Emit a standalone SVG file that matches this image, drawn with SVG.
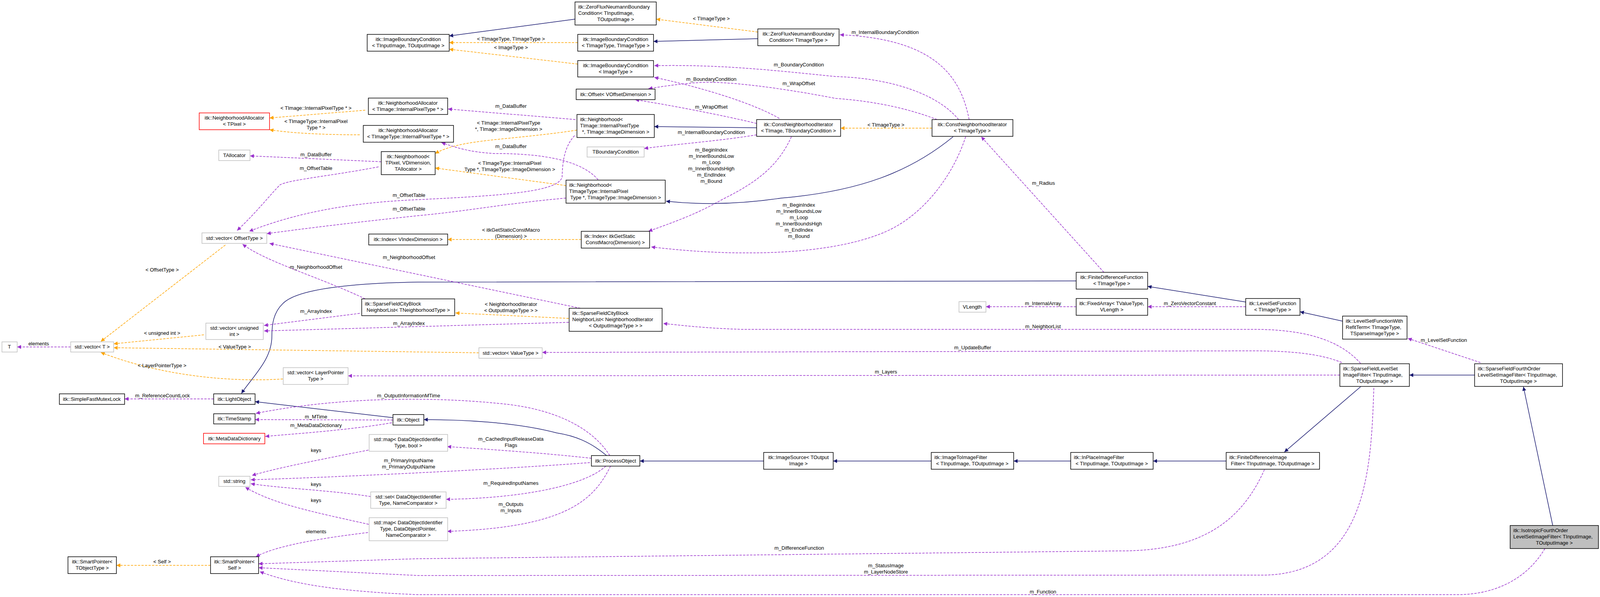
<svg xmlns="http://www.w3.org/2000/svg" width="4277" height="1528" viewBox="0 0 4277 1528">
<style>
text{font-family:"Liberation Sans",Arial,sans-serif;font-size:13px;fill:#000}
.node rect{fill:#fff;stroke:#000;stroke-width:1.5}
.gray rect{stroke:#bfbfbf}
.red rect{stroke:#ff0000}
.sel rect{fill:#bfbfbf}
.c{text-anchor:middle}
.e path{fill:none;stroke-width:1.5}
.n{stroke:#191970;marker-end:url(#an)}
.o{stroke:#ffa500;stroke-dasharray:6,3;marker-end:url(#ao)}
.p{stroke:#9a32cd;stroke-dasharray:6,3;marker-end:url(#ap)}
</style>
<defs>
<marker id="an" viewBox="0 0 10 10" refX="10" refY="5" markerWidth="13" markerHeight="10" markerUnits="userSpaceOnUse" orient="auto"><path d="M0,0L10,5L0,10z" fill="#191970"/></marker>
<marker id="ao" viewBox="0 0 10 10" refX="10" refY="5" markerWidth="13" markerHeight="10" markerUnits="userSpaceOnUse" orient="auto"><path d="M0,0L10,5L0,10z" fill="#ffa500"/></marker>
<marker id="ap" viewBox="0 0 10 10" refX="10" refY="5" markerWidth="13" markerHeight="10" markerUnits="userSpaceOnUse" orient="auto"><path d="M0,0L10,5L0,10z" fill="#9a32cd"/></marker>
</defs>
<rect width="4277" height="1528" fill="#fff"/>
<g id="edges" class="e">
<path class="n" d="M1472,49 L1150,92"/>
<path class="o" d="M1479,109 L1150,109"/>
<path class="o" d="M1479,164 L1150,126"/>
<path class="n" d="M1940,99 L1673,106"/>
<path class="o" d="M1940,82 L1680,49"/>
<path class="p" d="M1937,345 C1850,360 1720,370 1649,380"/>
<path class="n" d="M1937,327 L1675,324"/>
<path class="p" d="M1937,316 C1850,295 1720,270 1626,255"/>
<path class="p" d="M1995,303 C1920,260 1780,220 1675,198"/>
<path class="p" d="M2026,350 C1990,430 1930,470 1850,510 C1780,550 1720,570 1660,592"/>
<path class="o" d="M2386,328 L2152,328"/>
<path class="p" d="M2481,306 C2460,200 2400,100 2150,89"/>
<path class="p" d="M2454,306 C2400,240 2280,200 2140,196 C1980,180 1850,165 1675,168"/>
<path class="p" d="M2399,306 C2330,280 2250,260 2140,252 C2000,225 1850,205 1780,212 C1730,216 1690,222 1660,227"/>
<path class="n" d="M2440,350 C2330,440 2200,490 2000,507 C1900,522 1800,525 1705,515"/>
<path class="p" d="M2472,350 C2440,450 2360,560 2250,600 C2120,650 1900,660 1667,632"/>
<path class="p" d="M2826,697 L2512,350"/>
<path class="n" d="M2755,719 L1070,722 C900,725 760,740 724,777 C700,800 696,830 696,860 C696,920 650,960 618,1007"/>
<path class="n" d="M3189,773 L2938,733"/>
<path class="p" d="M3189,785 L2938,785"/>
<path class="p" d="M2755,785 L2524,785"/>
<path class="n" d="M3437,822 L3328,798"/>
<path class="p" d="M3790,928 L3604,866"/>
<path class="n" d="M3775,960 L3608,960"/>
<path class="n" d="M3975,1345 L3900,990"/>
<path class="n" d="M3483,990 L3288,1157"/>
<path class="n" d="M3139,1180 L2952,1180"/>
<path class="n" d="M2741,1180 L2595,1180"/>
<path class="n" d="M2384,1180 L2133,1180"/>
<path class="n" d="M1955,1180 L1638,1180"/>
<path class="n" d="M1553,1166 C1510,1130 1470,1115 1425,1108 C1320,1080 1180,1074 1085,1074"/>
<path class="n" d="M1006,1069 L653,1028"/>
<path class="p" d="M547,1021 L319,1021"/>
<path class="p" d="M1006,1075 L653,1074"/>
<path class="p" d="M1003,1082 C900,1100 760,1110 679,1117"/>
<path class="p" d="M1561,1166 C1520,1100 1430,1050 1300,1035 C1150,1018 900,1010 655,1058"/>
<path class="p" d="M1514,1173 C1400,1160 1250,1150 1145,1143"/>
<path class="p" d="M1510,1184 C1300,1200 900,1220 642,1228"/>
<path class="p" d="M1551,1193 C1500,1240 1350,1275 1142,1278"/>
<path class="p" d="M1563,1193 C1520,1280 1450,1350 1145,1360"/>
<path class="p" d="M943,1152 C800,1180 700,1200 645,1217"/>
<path class="p" d="M949,1271 C850,1255 720,1250 642,1238"/>
<path class="p" d="M944,1342 C800,1310 700,1290 628,1247"/>
<path class="p" d="M942,1363 C800,1380 700,1400 655,1425"/>
<path class="o" d="M539,1447 L298,1447"/>
<path class="p" d="M3237,1202 C3180,1330 3080,1410 2870,1410 L1070,1430 L662,1443"/>
<path class="p" d="M3517,993 C3510,1200 3500,1472 3230,1472 L1070,1473 L662,1453"/>
<path class="p" d="M3955,1404 C3910,1480 3830,1522 3730,1522 L1070,1522 C900,1515 760,1500 665,1463"/>
<path class="p" d="M3483,930 C3430,870 3340,843 3210,843 L1900,843 C1800,840 1740,832 1698,828"/>
<path class="p" d="M3435,928 C3380,905 3300,898 3210,898 L1388,902"/>
<path class="p" d="M3430,960 L891,962"/>
<path class="o" d="M1226,903 L291,890"/>
<path class="o" d="M522,857 L291,880"/>
<path class="o" d="M724,970 C600,978 420,965 258,902"/>
<path class="o" d="M577,627 L258,874"/>
<path class="p" d="M181,888 L44,888"/>
<path class="p" d="M921,802 L676,833"/>
<path class="p" d="M1456,825 L676,847"/>
<path class="o" d="M1456,815 L1166,801"/>
<path class="p" d="M1486,789 L690,623"/>
<path class="p" d="M935,765 C820,710 680,670 621,625"/>
<path class="o" d="M1488,613 L1146,613"/>
<path class="p" d="M976,414 L640,399"/>
<path class="p" d="M969,427 C850,450 740,460 717,473 C690,500 660,540 607,590"/>
<path class="p" d="M1473,306 L1147,279"/>
<path class="o" d="M1477,333 C1300,360 1180,355 1114,393"/>
<path class="o" d="M1449,475 L1114,430"/>
<path class="p" d="M1531,460 C1480,400 1350,393 1268,393 C1200,390 1160,375 1130,365"/>
<path class="p" d="M1471,347 C1440,380 1440,430 1439,453 C1430,490 1300,500 1070,511 C850,520 720,560 638,592"/>
<path class="p" d="M1449,507 C1300,520 1200,540 1070,552 C900,570 780,585 683,598"/>
<path class="o" d="M935,282 L690,302"/>
<path class="o" d="M921,345 C820,345 740,340 690,332"/>
</g>
<g id="edge-labels" class="c">
<text x="1821" y="52">&lt; TImageType &gt;</text>
<text x="1308" y="104">&lt; TImageType, TImageType &gt;</text>
<text x="1308" y="126">&lt; ImageType &gt;</text>
<text x="2180" y="87" style="text-anchor:start">m_InternalBoundaryCondition</text>
<text x="2045" y="170">m_BoundaryCondition</text>
<text x="1821" y="207">m_BoundaryCondition</text>
<text x="2045" y="218">m_WrapOffset</text>
<text x="1308" y="276">m_DataBuffer</text>
<text x="1821" y="278">m_WrapOffset</text>
<text x="809" y="281">&lt; TImage::InternalPixelType * &gt;</text>
<text x="1302" y="319">&lt; TImage::InternalPixelType</text>
<text x="1302" y="335">*, TImage::ImageDimension &gt;</text>
<text x="809" y="315">&lt; TImageType::InternalPixel</text>
<text x="809" y="331">Type * &gt;</text>
<text x="2268" y="324">&lt; TImageType &gt;</text>
<text x="1821" y="343">m_InternalBoundaryCondition</text>
<text x="1308" y="379">m_DataBuffer</text>
<text x="1821" y="388">m_BeginIndex</text>
<text x="1821" y="404">m_InnerBoundsLow</text>
<text x="1821" y="420">m_Loop</text>
<text x="1821" y="436">m_InnerBoundsHigh</text>
<text x="1821" y="452">m_EndIndex</text>
<text x="1821" y="468">m_Bound</text>
<text x="809" y="400">m_DataBuffer</text>
<text x="1305" y="422">&lt; TImageType::InternalPixel</text>
<text x="1305" y="438">Type *, TImageType::ImageDimension &gt;</text>
<text x="809" y="435">m_OffsetTable</text>
<text x="2642" y="473" style="text-anchor:start">m_Radius</text>
<text x="1047" y="504">m_OffsetTable</text>
<text x="2045" y="529">m_BeginIndex</text>
<text x="2045" y="545">m_InnerBoundsLow</text>
<text x="2045" y="561">m_Loop</text>
<text x="2045" y="577">m_InnerBoundsHigh</text>
<text x="2045" y="593">m_EndIndex</text>
<text x="2045" y="609">m_Bound</text>
<text x="1047" y="539">m_OffsetTable</text>
<text x="1308" y="593">&lt; itkGetStaticConstMacro</text>
<text x="1308" y="609">(Dimension) &gt;</text>
<text x="1047" y="663">m_NeighborhoodOffset</text>
<text x="809" y="688">m_NeighborhoodOffset</text>
<text x="415" y="695">&lt; OffsetType &gt;</text>
<text x="2670" y="781">m_InternalArray</text>
<text x="3046" y="781">m_ZeroVectorConstant</text>
<text x="1308" y="783">&lt; NeighborhoodIterator</text>
<text x="1308" y="799">&lt; OutputImageType &gt; &gt;</text>
<text x="809" y="801">m_ArrayIndex</text>
<text x="1047" y="832">m_ArrayIndex</text>
<text x="2670" y="840">m_NeighborList</text>
<text x="415" y="857">&lt; unsigned int &gt;</text>
<text x="3637" y="875" style="text-anchor:start">m_LevelSetFunction</text>
<text x="99" y="884">elements</text>
<text x="601" y="892">&lt; ValueType &gt;</text>
<text x="2490" y="894">m_UpdateBuffer</text>
<text x="415" y="940">&lt; LayerPointerType &gt;</text>
<text x="2268" y="956">m_Layers</text>
<text x="416" y="1017">m_ReferenceCountLock</text>
<text x="1046" y="1017">m_OutputInformationMTime</text>
<text x="809" y="1071">m_MTime</text>
<text x="809" y="1093">m_MetaDataDictionary</text>
<text x="1308" y="1128">m_CachedInputReleaseData</text>
<text x="1308" y="1144">Flags</text>
<text x="809" y="1157">keys</text>
<text x="1046" y="1183">m_PrimaryInputName</text>
<text x="1046" y="1199">m_PrimaryOutputName</text>
<text x="1308" y="1241">m_RequiredInputNames</text>
<text x="809" y="1244">keys</text>
<text x="809" y="1285">keys</text>
<text x="1308" y="1295">m_Outputs</text>
<text x="1308" y="1311">m_Inputs</text>
<text x="809" y="1365">elements</text>
<text x="2046" y="1407">m_DifferenceFunction</text>
<text x="415" y="1442">&lt; Self &gt;</text>
<text x="2268" y="1452">m_StatusImage</text>
<text x="2268" y="1468">m_LayerNodeStore</text>
<text x="2670" y="1519">m_Function</text>
</g>
<g id="zfnbc2" class="node"><rect x="1472" y="5" width="208" height="59"/><text x="1480" y="22">itk::ZeroFluxNeumannBoundary</text><text x="1480" y="38">Condition&lt; TInputImage,</text><text class="c" x="1576" y="54">TOutputImage &gt;</text></g>
<g id="ibc2" class="node"><rect x="940" y="88" width="210" height="43"/><text class="c" x="1045" y="105">itk::ImageBoundaryCondition</text><text class="c" x="1045" y="121">&lt; TInputImage, TOutputImage &gt;</text></g>
<g id="ibctt" class="node"><rect x="1479" y="88" width="194" height="43"/><text class="c" x="1576" y="105">itk::ImageBoundaryCondition</text><text class="c" x="1576" y="121">&lt; TImageType, TImageType &gt;</text></g>
<g id="ibci" class="node"><rect x="1479" y="155" width="194" height="42"/><text class="c" x="1576" y="172">itk::ImageBoundaryCondition</text><text class="c" x="1576" y="188">&lt; ImageType &gt;</text></g>
<g id="zfnbc1" class="node"><rect x="1940" y="74" width="208" height="43"/><text class="c" x="2044" y="91">itk::ZeroFluxNeumannBoundary</text><text class="c" x="2044" y="107">Condition&lt; TImageType &gt;</text></g>
<g id="offset" class="node"><rect x="1475" y="228" width="202" height="27"/><text class="c" x="1576" y="246">itk::Offset&lt; VOffsetDimension &gt;</text></g>
<g id="nat" class="node"><rect x="943" y="251" width="203" height="42"/><text class="c" x="1044" y="268">itk::NeighborhoodAllocator</text><text class="c" x="1044" y="284">&lt; TImage::InternalPixelType * &gt;</text></g>
<g id="nap" class="node red"><rect x="510" y="289" width="180" height="43"/><text class="c" x="600" y="306">itk::NeighborhoodAllocator</text><text class="c" x="600" y="322">&lt; TPixel &gt;</text></g>
<g id="nbi" class="node"><rect x="1477" y="293" width="198" height="59"/><text x="1485" y="310">itk::Neighborhood&lt;</text><text x="1485" y="326">TImage::InternalPixelType</text><text class="c" x="1576" y="342">*, TImage::ImageDimension &gt;</text></g>
<g id="cni2" class="node"><rect x="1937" y="306" width="215" height="43"/><text class="c" x="2044" y="323">itk::ConstNeighborhoodIterator</text><text class="c" x="2044" y="339">&lt; TImage, TBoundaryCondition &gt;</text></g>
<g id="cni1" class="node"><rect x="2386" y="306" width="207" height="43"/><text class="c" x="2489" y="323">itk::ConstNeighborhoodIterator</text><text class="c" x="2489" y="339">&lt; TImageType &gt;</text></g>
<g id="natt" class="node"><rect x="930" y="321" width="231" height="43"/><text class="c" x="1045" y="338">itk::NeighborhoodAllocator</text><text class="c" x="1045" y="354">&lt; TImageType::InternalPixelType * &gt;</text></g>
<g id="tbc" class="node gray"><rect x="1503" y="376" width="146" height="26"/><text class="c" x="1576" y="393">TBoundaryCondition</text></g>
<g id="talloc" class="node gray"><rect x="560" y="384" width="80" height="27"/><text class="c" x="600" y="402">TAllocator</text></g>
<g id="nbp" class="node"><rect x="976" y="388" width="138" height="59"/><text class="c" x="1045" y="405">itk::Neighborhood&lt;</text><text class="c" x="1045" y="421">TPixel, VDimension,</text><text class="c" x="1045" y="437">TAllocator &gt;</text></g>
<g id="nbtt" class="node"><rect x="1449" y="461" width="254" height="59"/><text x="1457" y="478">itk::Neighborhood&lt;</text><text x="1457" y="494">TImageType::InternalPixel</text><text class="c" x="1576" y="510">Type *, TImageType::ImageDimension &gt;</text></g>
<g id="voff" class="node gray"><rect x="517" y="596" width="166" height="27"/><text class="c" x="600" y="614">std::vector&lt; OffsetType &gt;</text></g>
<g id="idxv" class="node"><rect x="944" y="599" width="202" height="28"/><text class="c" x="1045" y="617">itk::Index&lt; VIndexDimension &gt;</text></g>
<g id="idxs" class="node"><rect x="1488" y="592" width="175" height="43"/><text x="1496" y="609">itk::Index&lt; itkGetStatic</text><text class="c" x="1575" y="625">ConstMacro(Dimension) &gt;</text></g>
<g id="fdf" class="node"><rect x="2755" y="697" width="183" height="43"/><text class="c" x="2846" y="714">itk::FiniteDifferenceFunction</text><text class="c" x="2846" y="730">&lt; TImageType &gt;</text></g>
<g id="sfcb1" class="node"><rect x="926" y="765" width="238" height="43"/><text x="934" y="782">itk::SparseFieldCityBlock</text><text class="c" x="1045" y="798">NeighborList&lt; TNeighborhoodType &gt;</text></g>
<g id="vlength" class="node gray"><rect x="2455" y="772" width="69" height="27"/><text class="c" x="2489" y="790">VLength</text></g>
<g id="fixedarray" class="node"><rect x="2755" y="764" width="183" height="43"/><text class="c" x="2846" y="781">itk::FixedArray&lt; TValueType,</text><text class="c" x="2846" y="797">VLength &gt;</text></g>
<g id="lsf" class="node"><rect x="3189" y="764" width="139" height="43"/><text class="c" x="3258" y="781">itk::LevelSetFunction</text><text class="c" x="3258" y="797">&lt; TImageType &gt;</text></g>
<g id="sfcb2" class="node"><rect x="1457" y="789" width="238" height="59"/><text x="1465" y="806">itk::SparseFieldCityBlock</text><text x="1465" y="822">NeighborList&lt; NeighborhoodIterator</text><text class="c" x="1576" y="838">&lt; OutputImageType &gt; &gt;</text></g>
<g id="lsfr" class="node"><rect x="3437" y="809" width="165" height="59"/><text x="3445" y="826">itk::LevelSetFunctionWith</text><text x="3445" y="842">RefitTerm&lt; TImageType,</text><text class="c" x="3519" y="858">TSparseImageType &gt;</text></g>
<g id="vui" class="node gray"><rect x="527" y="827" width="147" height="42"/><text class="c" x="600" y="844">std::vector&lt; unsigned</text><text class="c" x="600" y="860">int &gt;</text></g>
<g id="t" class="node gray"><rect x="5" y="875" width="39" height="26"/><text class="c" x="24" y="892">T</text></g>
<g id="vt" class="node gray"><rect x="181" y="875" width="110" height="26"/><text class="c" x="236" y="892">std::vector&lt; T &gt;</text></g>
<g id="vvt" class="node gray"><rect x="1226" y="890" width="162" height="27"/><text class="c" x="1307" y="908">std::vector&lt; ValueType &gt;</text></g>
<g id="sfls" class="node"><rect x="3430" y="931" width="178" height="58"/><text x="3438" y="948">itk::SparseFieldLevelSet</text><text x="3438" y="964">ImageFilter&lt; TInputImage,</text><text class="c" x="3519" y="980">TOutputImage &gt;</text></g>
<g id="sffo" class="node"><rect x="3775" y="931" width="225" height="58"/><text x="3783" y="948">itk::SparseFieldFourthOrder</text><text x="3783" y="964">LevelSetImageFilter&lt; TInputImage,</text><text class="c" x="3887" y="980">TOutputImage &gt;</text></g>
<g id="vlp" class="node gray"><rect x="725" y="941" width="166" height="43"/><text class="c" x="808" y="958">std::vector&lt; LayerPointer</text><text class="c" x="808" y="974">Type &gt;</text></g>
<g id="sfml" class="node"><rect x="152" y="1008" width="167" height="27"/><text class="c" x="235" y="1026">itk::SimpleFastMutexLock</text></g>
<g id="lightobject" class="node"><rect x="547" y="1008" width="106" height="27"/><text class="c" x="600" y="1026">itk::LightObject</text></g>
<g id="timestamp" class="node"><rect x="547" y="1059" width="106" height="26"/><text class="c" x="600" y="1076">itk::TimeStamp</text></g>
<g id="object" class="node"><rect x="1006" y="1061" width="79" height="27"/><text class="c" x="1045" y="1079">itk::Object</text></g>
<g id="mdd" class="node red"><rect x="521" y="1109" width="157" height="27"/><text class="c" x="600" y="1127">itk::MetaDataDictionary</text></g>
<g id="mapbool" class="node gray"><rect x="945" y="1112" width="201" height="43"/><text class="c" x="1045" y="1129">std::map&lt; DataObjectIdentifier</text><text class="c" x="1045" y="1145">Type, bool &gt;</text></g>
<g id="imagesource" class="node"><rect x="1955" y="1158" width="178" height="43"/><text class="c" x="2044" y="1175">itk::ImageSource&lt; TOutput</text><text class="c" x="2044" y="1191">Image &gt;</text></g>
<g id="iti" class="node"><rect x="2384" y="1158" width="211" height="43"/><text x="2392" y="1175">itk::ImageToImageFilter</text><text class="c" x="2489" y="1191">&lt; TInputImage, TOutputImage &gt;</text></g>
<g id="ipf" class="node"><rect x="2741" y="1158" width="211" height="43"/><text x="2749" y="1175">itk::InPlaceImageFilter</text><text class="c" x="2846" y="1191">&lt; TInputImage, TOutputImage &gt;</text></g>
<g id="fdif" class="node"><rect x="3139" y="1158" width="239" height="43"/><text x="3147" y="1175">itk::FiniteDifferenceImage</text><text class="c" x="3258" y="1191">Filter&lt; TInputImage, TOutputImage &gt;</text></g>
<g id="processobject" class="node"><rect x="1514" y="1166" width="124" height="27"/><text class="c" x="1576" y="1184">itk::ProcessObject</text></g>
<g id="string" class="node gray"><rect x="560" y="1219" width="80" height="26"/><text class="c" x="600" y="1236">std::string</text></g>
<g id="set" class="node gray"><rect x="949" y="1259" width="193" height="42"/><text class="c" x="1045" y="1276">std::set&lt; DataObjectIdentifier</text><text class="c" x="1045" y="1292">Type, NameComparator &gt;</text></g>
<g id="mapdop" class="node gray"><rect x="945" y="1325" width="201" height="59"/><text class="c" x="1045" y="1342">std::map&lt; DataObjectIdentifier</text><text class="c" x="1045" y="1358">Type, DataObjectPointer,</text><text class="c" x="1045" y="1374">NameComparator &gt;</text></g>
<g id="isotropic" class="node sel"><rect x="3866" y="1345" width="226" height="59"/><text x="3874" y="1362">itk::IsotropicFourthOrder</text><text x="3874" y="1378">LevelSetImageFilter&lt; TInputImage,</text><text class="c" x="3979" y="1394">TOutputImage &gt;</text></g>
<g id="spt" class="node"><rect x="174" y="1425" width="124" height="43"/><text class="c" x="236" y="1442">itk::SmartPointer&lt;</text><text class="c" x="236" y="1458">TObjectType &gt;</text></g>
<g id="sps" class="node"><rect x="539" y="1425" width="123" height="43"/><text class="c" x="600" y="1442">itk::SmartPointer&lt;</text><text class="c" x="600" y="1458">Self &gt;</text></g>
</svg>
